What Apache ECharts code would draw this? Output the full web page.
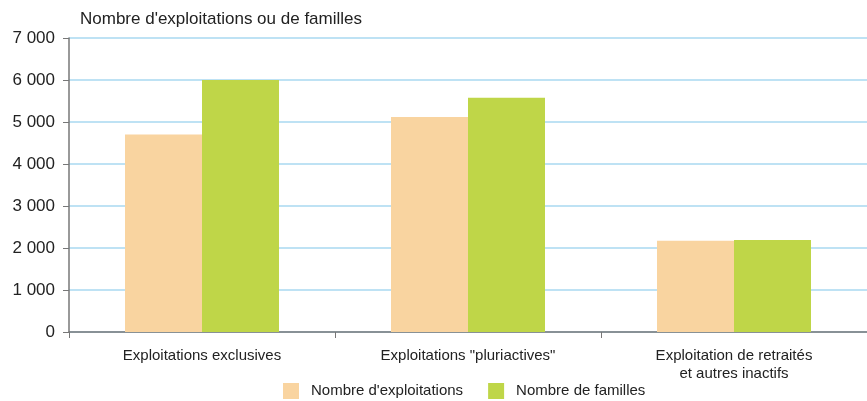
<!DOCTYPE html>
<html><head><meta charset="utf-8">
<script src="https://cdn.jsdelivr.net/npm/echarts@6/dist/echarts.min.js"></script>
<style>html,body{margin:0;padding:0;background:#fff}#c{width:867px;height:401px}</style>
</head><body><div id="c"></div>
<script>
const categories = ["Exploitations exclusives", "Exploitations \"pluriactives\"", "Exploitation de retraités\net autres inactifs"];
const exploitations = [4700, 5120, 2170];
const familles = [6000, 5580, 2190];
const seriesNames = ["Nombre d'exploitations", "Nombre de familles"];
const yTitle = "Nombre d'exploitations ou de familles";
const font = "'Liberation Sans', Arial, sans-serif";
const chart = echarts.init(document.getElementById('c'));
chart.setOption({
  animation: false,
  textStyle: { fontFamily: font },
  grid: { left: 69, right: 0, top: 38, bottom: 69, containLabel: false },
  legend: {
    top: 383, left: 283, padding: 0, itemWidth: 16, itemHeight: 16, itemGap: 25,
    icon: 'rect',
    textStyle: { fontFamily: font, fontSize: 15, color: '#222', padding: [0, 0, 0, 7] },
    data: seriesNames
  },
  xAxis: {
    type: 'category', data: categories,
    axisLine: { lineStyle: { color: '#777', width: 1.5 } },
    axisTick: { show: true, length: 6, lineStyle: { color: '#777' } },
    axisLabel: { fontFamily: font, fontSize: 15, color: '#222', margin: 15, lineHeight: 18 }
  },
  yAxis: {
    type: 'value', min: 0, max: 7000, interval: 1000,
    name: yTitle, nameLocation: 'end', nameGap: 10,
    nameTextStyle: { fontFamily: font, fontSize: 17, color: '#222', align: 'left', padding: [0, 0, 0, 11] },
    axisLine: { show: true, lineStyle: { color: '#777', width: 1.5 } },
    axisTick: { show: true, length: 6, lineStyle: { color: '#777' } },
    splitLine: { lineStyle: { color: '#a9d9f0', width: 1.5 } },
    axisLabel: { fontFamily: font, fontSize: 17, color: '#222', margin: 14,
      formatter: v => String(v).replace(/\B(?=(\d{3})+(?!\d))/g, ' ') }
  },
  series: [
    { name: seriesNames[0], type: 'bar', data: exploitations, barWidth: 77, barGap: '0%', itemStyle: { color: '#f9d4a0' } },
    { name: seriesNames[1], type: 'bar', data: familles, barWidth: 77, barGap: '0%', itemStyle: { color: '#bfd648' } }
  ]
});
</script></body></html>
